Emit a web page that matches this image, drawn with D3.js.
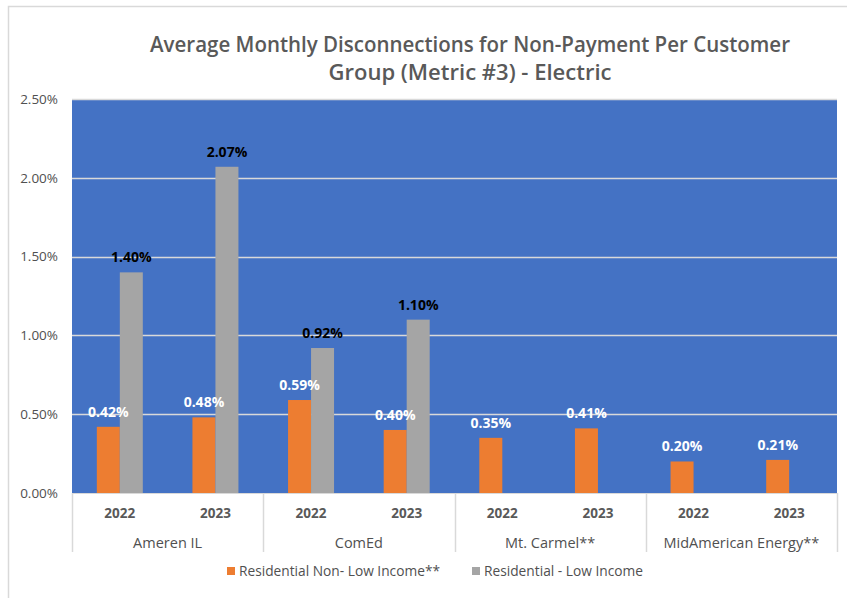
<!DOCTYPE html>
<html>
<head>
<meta charset="utf-8">
<script src="https://cdn.jsdelivr.net/npm/d3@7"></script>
<style>
  body { margin: 0; background: #fff; }
  text { font-family: "Open Sans", "Noto Sans", sans-serif; }
</style>
</head>
<body>
<div id="chart"></div>
<script>
/* DATA */
const companies = ["Ameren IL", "ComEd", "Mt. Carmel**", "MidAmerican Energy**"];
const years = ["2022", "2023"];
const seriesNames = ["Residential Non- Low Income**", "Residential - Low Income"];
// values in percent, order: company x year
const nonLowIncome = [0.42, 0.48, 0.59, 0.40, 0.35, 0.41, 0.20, 0.21];
const lowIncome = [1.40, 2.07, 0.92, 1.10, null, null, null, null];
const yTicks = [0, 0.5, 1.0, 1.5, 2.0, 2.5];

/* CONSTANTS */
const width = 847, height = 598;
const margin = { top: 99, right: 10, bottom: 105, left: 72 };
const colors = ["#ED7D31", "#A5A5A5"];
const textGray = "#595959";

// one row per company-year slot
const slots = [];
companies.forEach((c, i) => years.forEach((y, j) => {
  const k = i * 2 + j;
  slots.push({ key: c + "|" + y, company: c, year: y, values: [nonLowIncome[k], lowIncome[k]] });
}));

const svg = d3.select("#chart").append("svg")
  .attr("width", width)
  .attr("height", height);

// outer chart border (only top and left visible in the crop)
svg.append("path")
  .attr("d", `M8.5,${height} V6.5 H${width}`)
  .attr("fill", "none")
  .attr("stroke", "#D9D9D9")
  .attr("stroke-width", 1.5);

// + SCALES
const xScale = d3.scaleBand()
  .domain(slots.map(d => d.key))
  .range([margin.left, 837]);

const xInner = d3.scaleBand()
  .domain([0, 1])
  .range([0, 46]);

const yScale = d3.scaleLinear()
  .domain([0, 2.5])
  .range([493, margin.top]);

// plot background
svg.append("rect")
  .attr("x", margin.left)
  .attr("y", yScale(2.5))
  .attr("width", 837 - margin.left)
  .attr("height", yScale(0) - yScale(2.5))
  .attr("fill", "#4472C4");

// gridlines
svg.append("g")
  .selectAll("line")
  .data(yTicks.slice(1))
  .join("line")
  .attr("x1", margin.left)
  .attr("x2", 837)
  .attr("y1", d => Math.round(yScale(d)) + 0.5)
  .attr("y2", d => Math.round(yScale(d)) + 0.5)
  .attr("stroke", "#D9D9D9")
  .attr("stroke-width", 1.5);

// + Y AXIS
const yAxis = d3.axisLeft(yScale)
  .tickValues(yTicks)
  .tickSize(0)
  .tickPadding(14)
  .tickFormat(d => d3.format(".2f")(d) + "%");

svg.append("g")
  .attr("transform", `translate(${margin.left}, 0)`)
  .call(yAxis)
  .call(g => g.select(".domain").remove())
  .call(g => g.selectAll("text")
    .attr("fill", "#505050")
    .attr("font-size", 13.5)
    .attr("font-weight", 500));

// + BARS
const groups = svg.append("g")
  .selectAll("g")
  .data(slots)
  .join("g")
  .attr("transform", d => `translate(${xScale(d.key) + xScale.bandwidth() / 2 - 23}, 0)`);

groups.selectAll("rect")
  .data(d => d.values.map((v, i) => ({ v, i })).filter(e => e.v != null))
  .join("rect")
  .attr("x", e => xInner(e.i))
  .attr("width", xInner.bandwidth())
  .attr("y", e => yScale(e.v))
  .attr("height", e => yScale(0) - yScale(e.v))
  .attr("fill", e => colors[e.i]);

groups.selectAll("text")
  .data(d => d.values.map((v, i) => ({ v, i })).filter(e => e.v != null))
  .join("text")
  .attr("x", e => xInner(e.i) + xInner.bandwidth() / 2)
  .attr("y", e => yScale(e.v) - 10)
  .attr("text-anchor", "middle")
  .attr("font-size", 14)
  .attr("font-weight", "bold")
  .attr("fill", e => e.i === 0 ? "#FFFFFF" : "#000000")
  .text(e => d3.format(".2f")(e.v) + "%");

// + X AXIS (two levels)
const axisG = svg.append("g");
axisG.append("line")
  .attr("x1", margin.left).attr("x2", 837)
  .attr("y1", 493.5).attr("y2", 493.5)
  .attr("stroke", "#D9D9D9");

const groupW = xScale.bandwidth() * 2;
axisG.selectAll(".sep")
  .data(d3.range(companies.length + 1))
  .join("line")
  .attr("class", "sep")
  .attr("x1", i => Math.round(margin.left + i * groupW) + 0.5)
  .attr("x2", i => Math.round(margin.left + i * groupW) + 0.5)
  .attr("y1", 493)
  .attr("y2", 552)
  .attr("stroke", "#D9D9D9")
  .attr("stroke-width", 1.5);

axisG.selectAll(".year")
  .data(slots)
  .join("text")
  .attr("class", "year")
  .attr("x", d => xScale(d.key) + xScale.bandwidth() / 2)
  .attr("y", 518)
  .attr("text-anchor", "middle")
  .attr("font-size", 13.5)
  .attr("font-weight", "bold")
  .attr("fill", textGray)
  .text(d => d.year);

axisG.selectAll(".company")
  .data(companies)
  .join("text")
  .attr("class", "company")
  .attr("x", (d, i) => margin.left + (i + 0.5) * groupW)
  .attr("y", 548)
  .attr("text-anchor", "middle")
  .attr("font-size", 14.5)
  .attr("font-weight", 500)
  .attr("fill", "#505050")
  .text(d => d);

// + TITLE
const title = svg.append("text")
  .attr("text-anchor", "middle")
  .attr("font-size", 21)
  .attr("font-weight", 600)
  .attr("fill", textGray);
title.append("tspan")
  .attr("x", 470).attr("y", 52)
  .attr("textLength", 640).attr("lengthAdjust", "spacingAndGlyphs")
  .text("Average Monthly Disconnections for Non-Payment Per Customer");
title.append("tspan")
  .attr("x", 470).attr("y", 80)
  .attr("textLength", 283).attr("lengthAdjust", "spacingAndGlyphs")
  .text("Group (Metric #3) - Electric");

// + LEGEND
const legendX = [227, 472];
const legendW = [201, 159];
const legend = svg.append("g")
  .selectAll("g")
  .data(seriesNames)
  .join("g")
  .attr("transform", (d, i) => `translate(${legendX[i]}, 576)`);

legend.append("rect")
  .attr("x", 0).attr("y", -9)
  .attr("width", 8).attr("height", 8)
  .attr("fill", (d, i) => colors[i]);

legend.append("text")
  .attr("x", 12)
  .attr("y", 0)
  .attr("font-size", 14)
  .attr("font-weight", 500)
  .attr("fill", "#505050")
  .attr("textLength", (d, i) => legendW[i])
  .attr("lengthAdjust", "spacingAndGlyphs")
  .text(d => d);
</script>
</body>
</html>
